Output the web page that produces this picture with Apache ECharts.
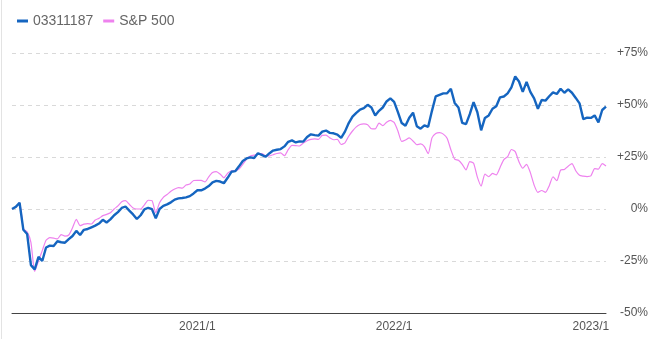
<!DOCTYPE html>
<html>
<head>
<meta charset="utf-8">
<script src="https://cdn.jsdelivr.net/npm/echarts@6/dist/echarts.min.js"></script>
<style>
  html, body { margin: 0; padding: 0; background: #fff; }
  #chart { width: 672px; height: 339px; position: relative; }
  #edge { position: absolute; left: 1px; top: 0; width: 1px; height: 339px; background: #e3e3e3; }
</style>
</head>
<body>
<div id="chart"></div>
<div id="edge"></div>
<script>
// Weekly returns (%) since start
const fundName = '03311187';
const indexName = 'S&P 500';
const startDate = '2020-01-24';
const fundValues = [
  0, 1, 3, -10, -12, -27, -29, -23, -25, -18.5,
  -17.6, -17.8, -15.5, -16, -16.2, -14.5, -13, -10.5, -12.5, -10,
  -9.6, -8.8, -8, -7, -5.2, -6.5, -5, -3, -1.5, 0.5,
  1.2, -0.8, -2.6, -4.8, -3, -0.2, 0.6, -0.1, -4.5, 0,
  1.5, 2.2, 3.2, 4.5, 5.1, 5.3, 5.6, 6.2, 7.5, 9,
  9, 9.8, 11, 12.8, 13.5, 13.2, 12.4, 15, 17.9, 18.2,
  20.5, 23.1, 24.3, 24.8, 24.5, 26.8, 26, 25.1, 26.7, 28.1,
  28.5, 28.8, 30.1, 32.3, 33, 32, 32.5, 32.4, 34.6, 35.9,
  35.5, 35.3, 37.2, 37.7, 36.6, 36.4, 35.8, 34.2, 37.2, 41.3,
  44.4, 46.2, 47.8, 48.5, 50.1, 48.8, 45, 47.2, 48.8, 51.7,
  53.2, 51.5, 46.6, 41.3, 40, 43.9, 46.3, 39.8, 38.6, 40.2,
  39.5, 47.2, 54.2, 54.9, 55.6, 55.6, 57.8, 51, 48.8, 41.4,
  40.8, 45.6, 51.4, 46.5, 37.8, 43.8, 45, 48.2, 49.4, 53.7,
  54.1, 55.6, 58.5, 63.7, 61.3, 56.3, 61.1, 56.3, 53.2, 48.2,
  52.4, 52.1, 54.2, 56.1, 55.3, 57.8, 55.9, 57.5, 55.9, 53.4,
  50.8, 43.2, 43.9, 43.8, 45, 41.6, 47.6, 49.2
];
const indexValues = [
  0, 1, 3, -9.5, -11, -16, -30, -25, -20, -15,
  -13.8, -14, -14.4, -12.3, -13, -12.5, -9, -5, -8, -7.3,
  -7, -7.2, -5.3, -4.5, -3.2, -2.6, -1.8, 0, 1.5, 3.5,
  4, 2.3, 0.5, 0, 0, 2, 4.2, 4, -1.8, 3,
  5.6, 7, 8.5, 9.6, 10.3, 10, 11.5, 12, 13.7, 13.8,
  13.8, 13, 15.5, 17.5, 18, 16.8, 15, 17.2, 18.4, 18.4,
  19.2, 21.5, 24, 25.5, 25.9, 26.4, 26.6, 25.6, 25.5, 26.1,
  26.7, 27, 25.6, 28.5, 30.6, 30.5, 30.3, 31.7, 32.8, 33.5,
  33.7, 33.5, 35.4, 35.5, 34.2, 33.3, 33.5, 31, 31.8, 35,
  37.5, 39.5, 40.6, 40.9, 40.5, 38.6, 38.5, 41.3, 40.1, 41.7,
  42.6, 41.6, 37.5, 32.5, 33.2, 34.2, 32.7, 30.9, 31.3, 30,
  26.6, 34.2, 36.3, 36.7, 36, 34, 28.5, 24, 23.4, 21.5,
  18.8, 22.8, 22, 15.3, 11, 16.8, 15.5, 17.1, 16.4, 20,
  23.7, 25.2, 28.6, 27.6, 22.7, 19.6, 21.5, 17.5, 11.5, 8,
  8.9, 8, 11.2, 15.5, 13.6, 18.7, 19, 20.6, 21.8, 18.4,
  16.2, 15.8, 15.6, 15.9, 19.4, 19.2, 21.8, 20.7
];
const yTicks = [-50, -25, 0, 25, 50, 75];

// weekly category dates
const t0 = Date.parse(startDate + 'T00:00:00Z');
const dates = fundValues.map((_, i) => new Date(t0 + i * 7 * 86400000).toISOString().slice(0, 10));

function nearJan(s) {
  const d = new Date(s + 'T00:00:00Z');
  const y = d.getUTCFullYear(), m = d.getUTCMonth(), day = d.getUTCDate();
  if (m === 0 && day <= 3) return y;
  if (m === 11 && day >= 29) return y + 1;
  return null;
}

const chart = echarts.init(document.getElementById('chart'), null, { renderer: 'canvas' });
chart.setOption({
  animation: false,
  textStyle: { fontFamily: 'Arial, "Liberation Sans", sans-serif' },
  legend: {
    data: [fundName, indexName],
    left: 12,
    top: 9,
    icon: 'rect',
    itemWidth: 11,
    itemHeight: 3,
    itemGap: 10,
    textStyle: { color: '#666', fontSize: 14 }
  },
  grid: { left: 12, right: 66, top: 53, bottom: 26, containLabel: false },
  xAxis: {
    type: 'category',
    data: dates,
    boundaryGap: false,
    axisLine: { onZero: false, lineStyle: { color: '#444', width: 1 } },
    axisTick: { show: false },
    splitLine: { show: false },
    axisLabel: {
      color: '#555',
      fontSize: 12,
      margin: 8,
      interval: (i, v) => nearJan(v) !== null,
      formatter: v => { const y = nearJan(v); return y ? y + '/1' : ''; }
    }
  },
  yAxis: {
    type: 'value',
    position: 'right',
    min: yTicks[0],
    max: yTicks[yTicks.length - 1],
    interval: 25,
    axisLine: { show: false },
    axisTick: { show: false },
    splitLine: { lineStyle: { color: '#d9d9d9', type: [4, 4] } },
    axisLabel: {
      color: '#555',
      fontSize: 12,
      align: 'right',
      margin: 42,
      formatter: v => (v > 0 ? '+' : '') + v + '%'
    }
  },
  series: [
    {
      name: indexName,
      type: 'line',
      data: indexValues,
      showSymbol: false,
      smooth: 0.2,
      z: 2,
      itemStyle: { color: '#ee82ee' },
      lineStyle: { color: '#ee82ee', width: 1.2 }
    },
    {
      name: fundName,
      type: 'line',
      data: fundValues,
      showSymbol: false,
      z: 3,
      itemStyle: { color: '#1565c0' },
      lineStyle: { color: '#1565c0', width: 2.4 }
    }
  ]
});
</script>
</body>
</html>
